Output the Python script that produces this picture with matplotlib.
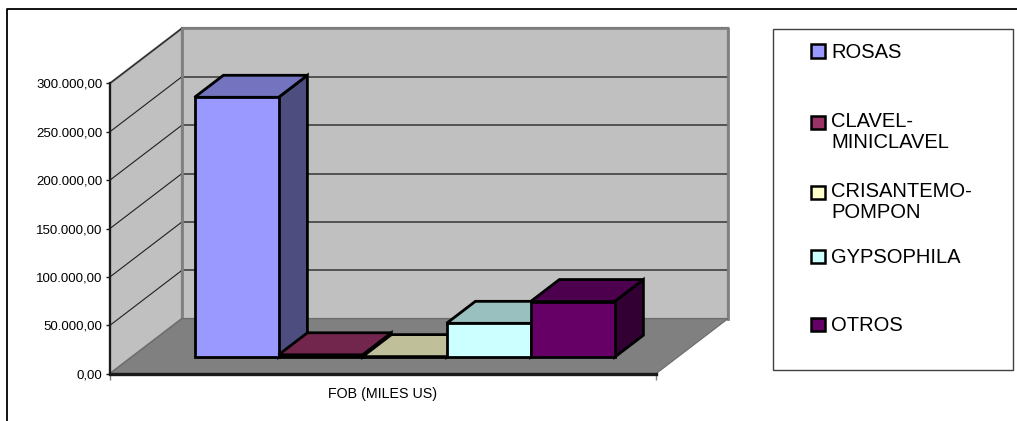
import matplotlib
matplotlib.use("Agg")
import matplotlib.pyplot as plt
from matplotlib.patches import Polygon, Rectangle
from matplotlib.lines import Line2D
from matplotlib.ticker import FuncFormatter
import numpy as np

plt.rcParams['font.family'] = ['Liberation Sans', 'DejaVu Sans']

# data
series = ["ROSAS", "CLAVEL-\nMINICLAVEL", "CRISANTEMO-\nPOMPON", "GYPSOPHILA", "OTROS"]
values = [268500, 2500, 600, 35000, 57500]
colors = ["#9999FF", "#993366", "#FFFFCC", "#CCFFFF", "#660066"]
category = "FOB (MILES US)"
yticks = [0, 50000, 100000, 150000, 200000, 250000, 300000]

W_PX, H_PX = 1017, 421
fig = plt.figure(figsize=(W_PX / 100, H_PX / 100), dpi=100)


def fx(x):
    return x / W_PX


def fy(y):
    return 1 - y / H_PX


# front plane of the plot
x0_px, x1_px, y0_px, y1_px = 110, 656, 373.7, 83.3
ax = fig.add_axes([fx(x0_px), fy(y0_px), fx(x1_px - x0_px), (y0_px - y1_px) / H_PX])
ax.set_xlim(0, 1)
ax.set_ylim(0, 300000)
ax.set_facecolor("none")

# depth offsets in data units
DX = 72 / (x1_px - x0_px)
DY = 55 / (y0_px - y1_px) * 300000


def proj(x, v, z):
    return (x + z * DX, v + z * DY)


def face(pts, fc, ec, lw, zo):
    ax.add_patch(Polygon([proj(*p) for p in pts], closed=True, facecolor=fc,
                         edgecolor=ec, linewidth=lw, clip_on=False, zorder=zo,
                         joinstyle="miter"))


top = yticks[-1]
# walls and floor
face([(0, 0, 1), (1, 0, 1), (1, top, 1), (0, top, 1)], "#C0C0C0", "#808080", 1.6, 1)
face([(0, 0, 0), (0, 0, 1), (0, top, 1), (0, top, 0)], "#C0C0C0", "#808080", 1.6, 1)
face([(0, 0, 0), (1, 0, 0), (1, 0, 1), (0, 0, 1)], "#808080", "#6a6a6a", 0.8, 3)

# gridlines
for v in yticks[1:]:
    xa, ya = proj(0, v, 1)
    xb, yb = proj(1, v, 1)
    ax.plot([xa, xb], [ya, yb], color="#404040", lw=1.2, clip_on=False, zorder=2)
    xs, ys = proj(0, v, 0)
    ax.plot([xs, xa], [ys, ya], color="#202020", lw=0.8, clip_on=False, zorder=2)
# redraw wall edges over the gridlines
xa, ya = proj(0, top, 1)
xb, yb = proj(1, top, 1)
xc, yc = proj(1, 0, 1)
xd, yd = proj(0, 0, 1)
ax.plot([xd, xa, xb, xc], [yd, ya, yb, yc], color="#808080", lw=2.0, clip_on=False, zorder=2.5)

# bars
n = len(values)
bw = 1 / (n + 1.5)
zf, zb = 0.3, 0.7
for i, (v, c) in enumerate(zip(values, colors)):
    b0 = 0.75 * bw + i * bw
    b1 = b0 + bw
    rgb = np.array(matplotlib.colors.to_rgb(c))
    zo = 5 + i
    face([(b1, 0, zf), (b1, 0, zb), (b1, v, zb), (b1, v, zf)], rgb * 0.5, "black", 2.0, zo)
    face([(b0, v, zf), (b1, v, zf), (b1, v, zb), (b0, v, zb)], rgb * 0.75, "black", 2.0, zo)
    face([(b0, 0, zf), (b1, 0, zf), (b1, v, zf), (b0, v, zf)], rgb, "black", 2.0, zo)

# axes
for s in ["top", "right"]:
    ax.spines[s].set_visible(False)
ax.spines["left"].set_color("#1a1a1a")
ax.spines["left"].set_linewidth(1.6)
ax.spines["bottom"].set_color("#1a1a1a")
ax.spines["bottom"].set_linewidth(2.4)
ax.spines["left"].set_zorder(20)
ax.spines["bottom"].set_zorder(20)
ax.set_yticks(yticks)
ax.yaxis.set_major_formatter(FuncFormatter(
    lambda v, p: "{:,.2f}".format(v).replace(",", "X").replace(".", ",").replace("X", ".")))
ax.tick_params(axis="y", direction="out", length=3, width=1, pad=2.5,
               labelsize=9.5, colors="#1a1a1a", labelcolor="black")
ax.set_xticks([0, 1])
ax.set_xticklabels([])
ax.tick_params(axis="x", direction="out", length=4, width=1, colors="#808080")
ax.text(0.5, (y0_px - 398.3) / (y0_px - y1_px), category, transform=ax.transAxes,
        ha="center", va="baseline", fontsize=10.3)

# legend box
fig.patches.append(Rectangle((fx(773.3), fy(370)), fx(1013.3 - 773.3), (370 - 29.3) / H_PX,
                             transform=fig.transFigure, facecolor="white",
                             edgecolor="#404040", linewidth=1.0))
leg_baselines = [57.7, 129, 199, 263, 331]
line_gap = 19.5
for lab, c, yb in zip(series, colors, leg_baselines):
    fig.patches.append(Rectangle((fx(811), fy(yb)), fx(14), 13.5 / H_PX,
                                 transform=fig.transFigure, facecolor=c,
                                 edgecolor="black", linewidth=1.8))
    # va="baseline" puts the last line on the given y
    last = yb + line_gap * lab.count("\n")
    fig.text(fx(831), fy(last), lab, ha="left", va="baseline", fontsize=14.5,
             linespacing=1.17)

# outer border of the chart area
fig.lines.append(Line2D([fx(7), fx(7), 1], [0, fy(9.3), fy(9.3)],
                        transform=fig.transFigure, color="black", linewidth=1.3))

fig.savefig("out.png", dpi=100)
